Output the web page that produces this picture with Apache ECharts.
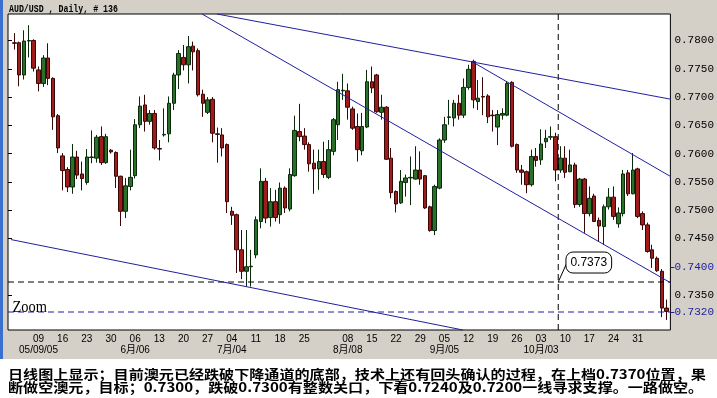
<!DOCTYPE html>
<html><head><meta charset="utf-8">
<script src="https://cdn.jsdelivr.net/npm/echarts@6/dist/echarts.min.js"></script>
<style>
html,body{margin:0;padding:0;background:#fff;}
#wrap{position:relative;width:717px;height:398px;background:linear-gradient(to bottom,#d4d0c8 0,#d4d0c8 359px,#ffffff 359px);}
#strip{position:absolute;left:0;top:0;width:3px;height:359px;background:#3a6fd0;}
#chart{position:absolute;left:0;top:0;width:717px;height:398px;}
</style></head><body>
<div id="wrap"><div id="strip"></div><div id="chart"></div></div>
<script>
// ---------- data ----------
const startDate = '2005-05-02';
const skippedDates = ['2005-08-01'];
const barCount = 136;

const tickDates = ['2005-05-09','2005-05-16','2005-05-23','2005-05-30','2005-06-06','2005-06-13','2005-06-20','2005-06-27',
  '2005-07-04','2005-07-11','2005-07-18','2005-07-25','2005-08-08','2005-08-15','2005-08-22','2005-08-29',
  '2005-09-05','2005-09-12','2005-09-19','2005-09-26','2005-10-03','2005-10-10','2005-10-17','2005-10-24','2005-10-31'];
const dayLabels = ['09','16','23','30','06','13','20','27','04','11','18','25','08','15','22','29','05','12','19','26','03','10','17','24','31'];
const monthLabels = ['05/09/05','','','','6月/06','','','','7月/04','','','','8月/08','','','','9月/05','','','','10月/03','','','',''];

const openP = [.7796,.7796,.7739,.7799,.7800,.7748,.7724,.7769,.7733,.7667,
 .7596,.7572,.7541,.7594,.7564,.7549,.7593,.7592,.7630,.7584,
 .7606,.7602,.7560,.7498,.7542,.7561,.7651,.7686,.7657,.7671,
 .7609,.7633,.7635,.7689,.7739,.7770,.7757,.7790,.7782,.7705,
 .7673,.7696,.7635,.7633,.7616,.7498,.7492,.7430,.7392,.7400,
 .7421,.7480,.7551,.7487,.7515,.7492,.7539,.7502,.7561,.7639,
 .7631,.7616,.7583,.7573,.7586,.7558,.7604,.7651,.7711,.7711,
 .7679,.7648,.7605,.7647,.7727,.7739,.7673,.7682,.7592,.7533,
 .7513,.7549,.7557,.7555,.7571,.7561,.7506,.7464,.7539,.7624,
 .7664,.7663,.7689,.7668,.7717,.7763,.7692,.7701,.7702,.7668,
 .7647,.7668,.7668,.7726,.7616,.7571,.7568,.7545,.7595,.7589,
 .7621,.7629,.7630,.7571,.7592,.7568,.7580,.7510,.7555,.7494,
 .7525,.7482,.7471,.7506,.7523,.7476,.7494,.7566,.7529,.7573,
 .7494,.7474,.7430,.7415,.7392,.7327];
const closeP = [.7795,.7739,.7799,.7800,.7751,.7724,.7769,.7733,.7665,.7610,
 .7570,.7541,.7594,.7562,.7556,.7594,.7594,.7629,.7584,.7630,
 .7603,.7560,.7498,.7543,.7558,.7651,.7684,.7657,.7671,.7610,
 .7608,.7634,.7689,.7739,.7777,.7757,.7789,.7780,.7704,.7689,
 .7695,.7636,.7634,.7610,.7515,.7491,.7430,.7392,.7400,.7401,
 .7483,.7551,.7486,.7515,.7487,.7539,.7504,.7563,.7641,.7630,
 .7616,.7582,.7573,.7586,.7563,.7607,.7660,.7713,.7712,.7682,
 .7645,.7607,.7648,.7727,.7716,.7674,.7682,.7590,.7531,.7511,
 .7551,.7557,.7558,.7571,.7555,.7504,.7464,.7542,.7624,.7651,
 .7665,.7689,.7668,.7717,.7749,.7695,.7698,.7700,.7665,.7667,
 .7669,.7671,.7724,.7613,.7571,.7567,.7545,.7595,.7588,.7617,
 .7627,.7630,.7571,.7592,.7567,.7580,.7510,.7555,.7494,.7521,
 .7480,.7472,.7506,.7523,.7489,.7495,.7564,.7529,.7571,.7489,
 .7474,.7427,.7415,.7393,.7327,.7321];
const lowP = [.7784,.7719,.7731,.7770,.7745,.7710,.7718,.7721,.7642,.7601,
 .7535,.7532,.7529,.7555,.7535,.7545,.7583,.7584,.7580,.7582,
 .7600,.7539,.7472,.7486,.7535,.7556,.7645,.7639,.7651,.7607,
 .7588,.7630,.7620,.7677,.7714,.7747,.7724,.7747,.7701,.7665,
 .7670,.7620,.7584,.7595,.7495,.7474,.7389,.7378,.7365,.7365,
 .7415,.7468,.7477,.7471,.7480,.7476,.7495,.7498,.7559,.7622,
 .7607,.7568,.7529,.7536,.7557,.7555,.7597,.7624,.7695,.7660,
 .7642,.7586,.7597,.7645,.7707,.7672,.7660,.7589,.7521,.7496,
 .7511,.7524,.7509,.7554,.7545,.7502,.7462,.7456,.7537,.7619,
 .7651,.7648,.7660,.7663,.7713,.7680,.7677,.7668,.7654,.7639,
 .7615,.7660,.7666,.7611,.7566,.7545,.7530,.7542,.7577,.7580,
 .7610,.7624,.7551,.7566,.7557,.7567,.7504,.7506,.7460,.7489,
 .7479,.7445,.7439,.7501,.7483,.7469,.7489,.7525,.7528,.7486,
 .7465,.7425,.7398,.7391,.7311,.7306];
const highP = [.7813,.7798,.7818,.7827,.7802,.7754,.7774,.7795,.7735,.7670,
 .7601,.7576,.7617,.7605,.7586,.7608,.7641,.7633,.7648,.7635,
 .7608,.7604,.7561,.7557,.7607,.7661,.7701,.7704,.7677,.7677,
 .7624,.7680,.7701,.7743,.7783,.7792,.7808,.7798,.7786,.7713,
 .7700,.7700,.7646,.7645,.7618,.7506,.7494,.7465,.7465,.7430,
 .7489,.7574,.7557,.7539,.7536,.7549,.7542,.7574,.7667,.7688,
 .7645,.7620,.7607,.7607,.7621,.7624,.7663,.7727,.7741,.7724,
 .7683,.7671,.7672,.7748,.7754,.7741,.7704,.7684,.7610,.7535,
 .7571,.7563,.7595,.7613,.7604,.7562,.7508,.7545,.7627,.7665,
 .7695,.7695,.7704,.7733,.7757,.7766,.7730,.7735,.7705,.7677,
 .7677,.7680,.7727,.7728,.7618,.7580,.7570,.7607,.7610,.7643,
 .7642,.7648,.7637,.7613,.7613,.7607,.7584,.7557,.7557,.7542,
 .7529,.7487,.7510,.7539,.7542,.7505,.7571,.7571,.7601,.7575,
 .7498,.7478,.7439,.7418,.7396,.7342];

const priceMin = 0.72882, priceMax = 0.78468;
const blackTicks = [0.7800,0.7750,0.7700,0.7650,0.7600,0.7550,0.7500,0.7450,0.7350];
const blueTicks = [0.7400,0.7320];

// trend lines: [bar index, price]
const trendUpper = [[41.94,0.78468],[135.88,0.76961]];
const trendSteep = [[38.84,0.78468],[135.88,0.73713]];
const trendChannel = [[94.85,0.77620],[135.88,0.75592]];
const trendLower = [[-1.30,0.74491],[92.84,0.72882]];
const markerBar = 112.56;
const levelBlack = 0.7373;
const levelBlue = 0.7320;
const calloutText = '0.7373';

const headerText = 'AUD/USD , Daily, # 136';
const captionLines = ['日线图上显示；目前澳元已经跌破下降通道的底部，技术上还有回头确认的过程，在上档0.7370位置，果',
  '断做空澳元，目标；0.7300，跌破0.7300有整数关口，下看0.7240及0.7200一线寻求支撑。一路做空。'];

// ---------- build ----------
const categories = [];
(function(){
  const d = new Date(startDate + 'T00:00:00Z');
  while (categories.length < barCount) {
    const wd = d.getUTCDay();
    const s = d.toISOString().slice(0,10);
    if (wd !== 0 && wd !== 6 && skippedDates.indexOf(s) < 0) categories.push(s);
    d.setUTCDate(d.getUTCDate() + 1);
  }
})();
const candles = openP.map((o,i) => [o, closeP[i], lowP[i], highP[i]]);

const BLUE = '#2020a0';
const chart = echarts.init(document.getElementById('chart'), null, {renderer:'canvas'});
const labelFont = {fontFamily:'"Liberation Mono", monospace', fontSize:11};
const dateFont = '"Liberation Sans", "Noto Sans CJK SC", sans-serif';

chart.setOption({
  animation:false,
  grid:[
    {left:8, top:14, width:663, height:316, show:true, backgroundColor:'#ffffff', borderColor:'#000', borderWidth:1},
    {left:11.9, top:14, width:657.2, height:316}
  ],
  xAxis:[
    {gridIndex:0, type:'value', min:0, max:1, show:false},
    {gridIndex:1, type:'category', data:categories, boundaryGap:true, position:'bottom',
      axisLine:{show:false}, axisTick:{show:false}, splitLine:{show:false},
      axisLabel:{
        interval:(idx, val) => tickDates.indexOf(val) >= 0,
        showMinLabel:true, showMaxLabel:true, hideOverlap:false,
        formatter:(val) => { const k = tickDates.indexOf(val); return k < 0 ? '' : dayLabels[k]; },
        margin:3, color:'#000', fontFamily:dateFont, fontSize:10, lineHeight:12
      }},
    {gridIndex:1, type:'value', min:-0.5, max:135.5, show:false},
    {gridIndex:1, type:'category', data:categories, boundaryGap:true, position:'bottom', offset:11,
      axisLine:{show:false}, axisTick:{show:false}, splitLine:{show:false},
      axisLabel:{
        interval:(idx, val) => { const k = tickDates.indexOf(val); return k >= 0 && monthLabels[k] !== ''; },
        showMinLabel:true, showMaxLabel:true, hideOverlap:false,
        formatter:(val) => { const k = tickDates.indexOf(val); return k < 0 ? '' : monthLabels[k]; },
        margin:3, color:'#000', fontFamily:dateFont, fontSize:10, lineHeight:12
      }}
  ],
  yAxis:[
    {gridIndex:0, type:'value', position:'right', min:priceMin, max:priceMax,
      axisLine:{show:false}, splitLine:{show:false},
      axisTick:{show:true, length:4, customValues:blackTicks, lineStyle:{color:'#000'}},
      axisLabel:{customValues:blackTicks.concat(blueTicks), margin:4, showMinLabel:true, showMaxLabel:true,
        formatter:(v) => Number(v).toFixed(4),
        color:(v) => blueTicks.some(b => Math.abs(b - Number(v)) < 1e-6) ? BLUE : '#000',
        fontFamily:labelFont.fontFamily, fontSize:labelFont.fontSize}},
    {gridIndex:0, type:'value', position:'right', min:priceMin, max:priceMax,
      axisLine:{show:false}, splitLine:{show:false}, axisLabel:{show:false},
      axisTick:{show:true, length:4, customValues:blueTicks, lineStyle:{color:BLUE}}},
    {gridIndex:1, type:'value', min:priceMin, max:priceMax, show:false}
  ],
  series:[
    {type:'line', xAxisIndex:0, yAxisIndex:0, data:[[0,levelBlack],[1,levelBlack]], symbol:'none', silent:true,
      lineStyle:{color:'#000', width:1, type:[6,4]}},
    {type:'line', xAxisIndex:0, yAxisIndex:0, data:[[0,levelBlue],[1,levelBlue]], symbol:'none', silent:true,
      lineStyle:{color:BLUE, width:1, type:[6,4]}},
    {type:'candlestick', xAxisIndex:1, yAxisIndex:2, data:candles, barWidth:4,
      itemStyle:{color:'#2a6f2a', color0:'#9e1c1c', borderColor:'#0b2a0b', borderColor0:'#3a0707', borderWidth:1}},
    {type:'line', xAxisIndex:2, yAxisIndex:2, data:[[markerBar,priceMin],[markerBar,priceMax]], symbol:'none', silent:true, clip:false,
      lineStyle:{color:'#000', width:1, type:[6,4]}},
    ...[trendUpper, trendSteep, trendChannel, trendLower].map(t => ({
      type:'line', xAxisIndex:2, yAxisIndex:2, data:t, symbol:'none', silent:true, clip:false,
      lineStyle:{color:BLUE, width:1}})),
    {type:'custom', xAxisIndex:2, yAxisIndex:2, clip:false, silent:true, data:[[markerBar, levelBlack]],
      renderItem:(params, api) => {
        const p = api.coord([api.value(0), api.value(1)]);
        return {type:'group', children:[
          {type:'line', shape:{x1:p[0], y1:p[1], x2:p[0]+9, y2:p[1]-20}, style:{stroke:'#000', lineWidth:1}},
          {type:'rect', shape:{x:p[0]+7.7, y:p[1]-30, width:45.7, height:21, r:7}, style:{fill:'#fff', stroke:'#000', lineWidth:1}},
          {type:'text', style:{x:p[0]+30.5, y:p[1]-19.5, text:calloutText, align:'center', verticalAlign:'middle',
            font:'12px "Liberation Sans"', fill:'#000'}}
        ]};
      }}
  ],
  graphic:[
    {type:'text', x:9, y:9.5, scaleX:0.75, style:{text:headerText, font:'bold 11px "Liberation Mono"', fill:'#000', verticalAlign:'middle'}},
    {type:'text', x:12.5, y:307.5, scaleX:0.9, z:50, style:{text:'Zoom', font:'16px "Liberation Serif"', fill:'#000', verticalAlign:'middle'}},
    {type:'text', x:8, y:374, scaleX:1.16, style:{text:captionLines[0], font:'bold 13px "Noto Sans CJK SC"', fill:'#000', verticalAlign:'middle'}},
    {type:'text', x:8, y:387, scaleX:1.16, style:{text:captionLines[1], font:'bold 13px "Noto Sans CJK SC"', fill:'#000', verticalAlign:'middle'}}
  ]
});
</script>
</body></html>
